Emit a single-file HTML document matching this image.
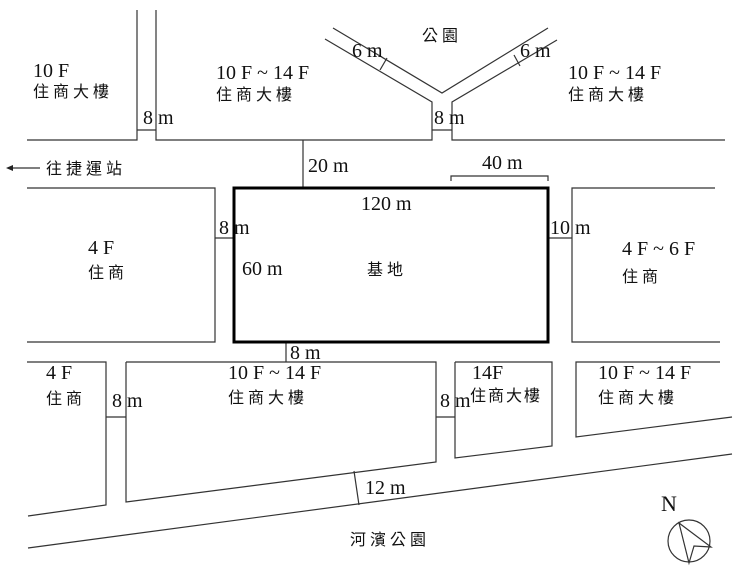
<!DOCTYPE html>
<html><head><meta charset="utf-8"><style>
html,body{margin:0;padding:0;background:#fff}
svg{display:block}
text{font-family:"Liberation Serif","Noto Serif CJK SC",serif;fill:#111}
.c{font-family:"Liberation Serif","Noto Sans CJK TC",sans-serif;font-size:16px;letter-spacing:4px}
.l{font-size:20px}
</style></head><body>
<svg width="741" height="579" viewBox="0 0 741 579" xmlns="http://www.w3.org/2000/svg">
<g stroke="#333" stroke-width="1.2" fill="none">
<polyline points="137,10 137,140 27,140"/>
<polyline points="156,10 156,140 432,140 432,102 325,39"/>
<polyline points="333,28 442,93 548,28"/>
<polyline points="557,40 452,102 452,140 725,140"/>
<polyline points="27,188 215,188 215,342 27,342"/>
<polyline points="715,188 572,188 572,342 720,342"/>
<polyline points="27,362 106,362 106,505 28,516"/>
<polyline points="126,362 436,362 436,462 126,502 126,362"/>
<polyline points="455,362 552,362 552,446 455,458 455,362"/>
<polyline points="720,362 576,362 576,437 732,417"/>
<line x1="28" y1="548" x2="732" y2="454"/>
<line x1="137" y1="130" x2="156" y2="130"/>
<line x1="432" y1="130" x2="452" y2="130"/>
<line x1="303" y1="140" x2="303" y2="188"/>
<polyline points="451,181 451,176 548,176 548,181"/>
<line x1="215" y1="238" x2="234" y2="238"/>
<line x1="548" y1="238" x2="572" y2="238"/>
<line x1="286" y1="342" x2="286" y2="362"/>
<line x1="106" y1="417" x2="126" y2="417"/>
<line x1="436" y1="417" x2="455" y2="417"/>
<line x1="354" y1="471" x2="359" y2="505"/>
<line x1="380" y1="70" x2="387" y2="58"/>
<line x1="514" y1="55" x2="520" y2="66"/>
<line x1="12" y1="168" x2="40" y2="168"/>
<circle cx="689" cy="541" r="21"/>
<polygon points="679,523 711,547 694,546 689,563"/>
</g>
<polygon points="6,168 13,165 13,171" fill="#222"/>
<rect x="234" y="188" width="314" height="154" fill="none" stroke="#000" stroke-width="3"/>
<text x="33" y="77" class="l">10 F</text><text x="33" y="97" class="c">住商大樓</text>
<text x="216" y="79" class="l">10 F ~ 14 F</text><text x="216" y="100" class="c">住商大樓</text>
<text x="422" y="41" class="c">公園</text>
<text x="568" y="79" class="l">10 F ~ 14 F</text><text x="568" y="100" class="c">住商大樓</text>
<text x="352" y="57" class="l">6 m</text><text x="520" y="57" class="l">6 m</text>
<text x="143" y="124" class="l">8 m</text><text x="434" y="124" class="l">8 m</text>
<text x="46" y="174" class="c">往捷運站</text>
<text x="308" y="172" class="l">20 m</text>
<text x="482" y="169" class="l">40 m</text>
<text x="361" y="210" class="l">120 m</text>
<text x="219" y="234" class="l">8 m</text>
<text x="550" y="234" class="l">10 m</text>
<text x="88" y="254" class="l">4 F</text><text x="88" y="278" class="c">住商</text>
<text x="242" y="275" class="l">60 m</text>
<text x="367" y="275" class="c">基地</text>
<text x="622" y="255" class="l">4 F ~ 6 F</text><text x="622" y="282" class="c">住商</text>
<text x="290" y="359" class="l">8 m</text>
<text x="46" y="379" class="l">4 F</text><text x="46" y="404" class="c">住商</text>
<text x="228" y="379" class="l">10 F ~ 14 F</text><text x="228" y="403" class="c">住商大樓</text>
<text x="472" y="379" class="l">14F</text><text x="470" y="401" class="c" style="letter-spacing:2px">住商大樓</text>
<text x="598" y="379" class="l">10 F ~ 14 F</text><text x="598" y="403" class="c">住商大樓</text>
<text x="112" y="407" class="l">8 m</text><text x="440" y="407" class="l">8 m</text>
<text x="365" y="494" class="l">12 m</text>
<text x="350" y="545" class="c">河濱公園</text>
<text x="661" y="511" style="font-size:22px">N</text>
</svg>
</body></html>
